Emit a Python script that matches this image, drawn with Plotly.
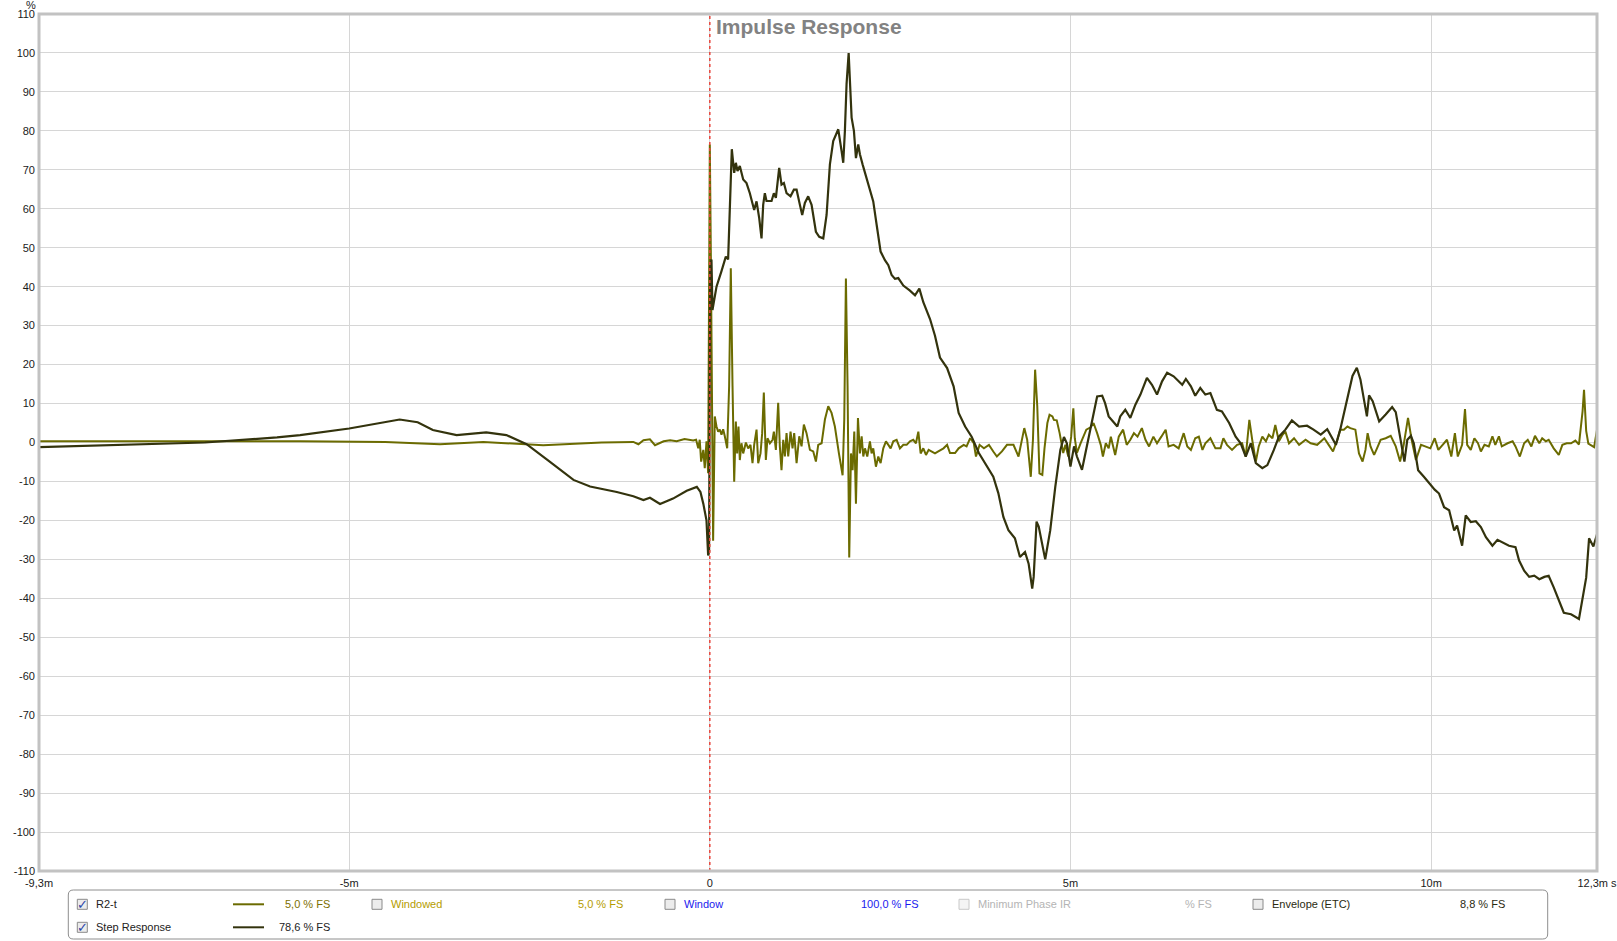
import plotly.graph_objects as go

# ---------------- data (time in ms, values in %) ----------------
ir_t = [-9.3, -6.5, -5.68, -4.5, -3.74, -3.14, -2.31, -1.5, -1.06, -0.99, -0.92, -0.83, -0.76, -0.64,
        -0.55, -0.46, -0.35, -0.23, -0.19, -0.16, -0.14, -0.12, -0.09, -0.07, -0.046, -0.023,
        0.0, 0.014, 0.032, 0.046, 0.069, 0.093, 0.116, 0.139, 0.162, 0.185, 0.208, 0.241,
        0.268, 0.291, 0.315, 0.338, 0.361, 0.379, 0.398, 0.416, 0.439, 0.463, 0.5, 0.532,
        0.564, 0.592, 0.615, 0.648, 0.671, 0.703, 0.726, 0.749, 0.777, 0.8, 0.833, 0.87,
        0.888, 0.916, 0.948, 0.971, 0.994, 1.018, 1.041, 1.064, 1.087, 1.119, 1.147, 1.17,
        1.203, 1.24, 1.272, 1.304, 1.341, 1.388, 1.434, 1.471, 1.503, 1.55, 1.596, 1.642,
        1.688, 1.734, 1.79, 1.841, 1.864, 1.887, 1.91, 1.933, 1.957, 1.98, 2.003, 2.026,
        2.054, 2.081, 2.105, 2.128, 2.151, 2.183, 2.22, 2.243, 2.266, 2.303, 2.336, 2.368,
        2.405, 2.442, 2.475, 2.507, 2.544, 2.59, 2.636, 2.683, 2.729, 2.775, 2.821, 2.858,
        2.891, 2.923, 2.96, 2.997, 3.034, 3.076, 3.122, 3.168, 3.24, 3.29, 3.33, 3.40,
        3.45, 3.52, 3.56, 3.61, 3.66, 3.69, 3.74, 3.80, 3.87, 3.93, 3.98, 4.05, 4.12, 4.21,
        4.28, 4.36, 4.40, 4.45, 4.48, 4.51, 4.54, 4.57, 4.61, 4.64, 4.68, 4.71, 4.75, 4.77,
        4.81, 4.85, 4.90, 4.93, 4.97, 5.01, 5.04, 5.06, 5.09, 5.14, 5.18, 5.22, 5.28, 5.32,
        5.37, 5.42, 5.45, 5.49, 5.53, 5.56, 5.62, 5.67, 5.73, 5.78, 5.83, 5.88, 5.93, 5.99,
        6.04, 6.09, 6.15, 6.20, 6.26, 6.32, 6.36, 6.43, 6.50, 6.57, 6.62, 6.67, 6.73, 6.78,
        6.83, 6.87, 6.94, 7.01, 7.08, 7.12, 7.17, 7.24, 7.31, 7.38, 7.43, 7.48, 7.52, 7.57,
        7.61, 7.66, 7.71, 7.75, 7.80, 7.84, 7.89, 7.94, 7.98, 8.03, 8.10, 8.17, 8.26, 8.33,
        8.42, 8.52, 8.58, 8.64, 8.70, 8.74, 8.79, 8.84, 8.88, 8.95, 9.00, 9.05, 9.09, 9.12,
        9.16, 9.21, 9.25, 9.30, 9.37, 9.44, 9.51, 9.57, 9.62, 9.68, 9.73, 9.79, 9.86, 9.92,
        9.99, 10.05, 10.10, 10.16, 10.22, 10.28, 10.33, 10.37, 10.43, 10.47, 10.50, 10.55,
        10.60, 10.65, 10.69, 10.74, 10.80, 10.85, 10.89, 10.94, 10.98, 11.06, 11.13, 11.17,
        11.23, 11.29, 11.34, 11.39, 11.44, 11.50, 11.54, 11.59, 11.63, 11.70, 11.77, 11.82,
        11.88, 11.94, 12.0, 12.05, 12.10, 12.12, 12.15, 12.18, 12.22, 12.26, 12.3]
ir_v = [0.3, 0.3, 0.3, 0.1, -0.45, 0.15, -0.7, 0.0, 0.15, -0.45, 0.6, 0.8, -0.7, 0.3,
        0.6, 0.3, 0.9, 0.5, 0.7, -1.5, 0.7, -4.9, -1.9, -6.6, 0.3, -7.9,
        76.5, 49.0, 1.6, -25.2, 6.7, 4.1, 2.8, 3.3, 2.0, 3.4, 1.6, -1.5,
        14.5, 44.7, 14.5, -10.1, 5.4, -2.8, 4.1, -4.5, -0.2, -2.8, 0.0, -1.5,
        -0.6, -5.3, -0.6, 3.3, -5.3, -2.8, 2.4, 12.8, -4.5, 1.1, -0.2, 0.7,
        2.8, -1.9, 10.2, -1.0, -7.1, 0.7, -3.6, 2.4, -3.6, 2.8, -1.5, 2.4,
        -5.3, 1.6, -1.0, 4.6, 2.4, -1.9, -2.3, -4.9, -0.6, -0.2, 5.9, 9.3,
        7.6, 4.1, -2.8, -8.4, 5.9, 42.1, 14.5, -29.5, -2.8, -7.1, 2.8, -15.7,
        6.3, -2.8, 1.6, -3.6, -1.5, -3.6, 0.3, -2.8, -1.5, -6.2, -3.6, -5.3,
        -1.5, 0.3, -0.6, -1.5, 0.3, 0.7, -1.5, -0.6, -0.6, 0.3, 0.7, -0.2,
        2.8, -2.8, -1.5, -3.2, -1.9, -2.3, -2.8, -2.3, -1.5, -0.6, -2.7, -2.7,
        -1.5, -0.6, -1.0, 1.1, -0.2, -3.6, -0.6, -1.5, -0.6, -2.3, -3.6, -2.3, -0.6, -0.6,
        -3.6, 3.7, 0.7, -8.8, 0.7, 18.7, 9.3, -7.9, -8.3, -1.5, 5.0, 7.1, 6.7, 5.8,
        5.7, 2.4, -2.7, -0.6, -3.6, 1.5, 8.8, 1.1, -2.7, -0.2, 1.5, 3.3, 3.9, 5.0,
        2.4, -0.6, -3.6, -0.2, -1.5, 1.5, -3.2, 1.5, 3.3, -0.6, 0.7, 2.4, 1.5, 3.7,
        0.7, -1.0, 1.5, -0.2, 1.5, 3.3, -1.0, -0.6, -1.5, 2.4, -1.0, -1.9, 1.1, 1.5,
        -1.9, -0.2, 1.1, -1.5, -1.5, 1.1, -0.6, -1.9, -0.6, -0.2, -3.6, 5.8, 0.7, -4.9,
        -1.0, 1.5, 0.3, 2.0, 1.1, 4.5, 0.3, 2.0, 2.8, -0.2, 1.1, -0.6, 0.7, -0.2,
        -0.6, 1.1, -0.6, -2.3, 0.7, 3.3, 3.3, 4.1, 3.7, 3.3, -2.8, -4.9, -1.9, 2.4,
        -1.0, -3.2, -1.5, 0.7, 1.1, 1.7, -1.0, -4.9, -0.6, 6.3, 0.7, -4.5, -0.6, -1.0,
        -1.5, 1.1, -1.9, -0.6, 0.7, -3.6, 2.4, -3.6, -0.6, 8.6, -0.6, -1.9,
        1.1, -0.2, -2.3, -0.6, -1.0, 1.6, -0.6, 1.6, -1.0, -0.2, 0.3, -1.0,
        -3.6, -0.2, 0.7, -1.0, 1.7, -0.2, 1.1, 0.3, 0.7, -1.5, -3.2, -0.6,
        -0.2, -0.2, 0.5, -0.5, 8.0, 13.5, 3.0, -0.3, -0.8, -1.2, 3.2]

step_t = [-9.3, -8.4, -7.0, -6.0, -5.68, -5.0, -4.6, -4.3, -4.05, -3.84, -3.51, -3.10, -2.82,
          -2.54, -2.22, -1.89, -1.66, -1.29, -1.06, -0.92, -0.83, -0.69, -0.51, -0.32, -0.18,
          -0.13, -0.09, -0.046, -0.023, -0.01, 0.005, 0.023, 0.037, 0.093, 0.162, 0.222, 0.254,
          0.278, 0.305, 0.338, 0.361, 0.384, 0.416, 0.463, 0.509, 0.555, 0.615, 0.648, 0.685,
          0.717, 0.740, 0.763, 0.786, 0.856, 0.888, 0.916, 0.962, 0.994, 1.027, 1.064, 1.119,
          1.166, 1.203, 1.249, 1.281, 1.318, 1.364, 1.411, 1.471, 1.517, 1.573, 1.619, 1.665,
          1.711, 1.781, 1.827, 1.850, 1.873, 1.896, 1.925, 1.966, 1.998, 2.026, 2.058, 2.081,
          2.118, 2.174, 2.220, 2.266, 2.313, 2.368, 2.428, 2.475, 2.521, 2.567, 2.613, 2.683,
          2.775, 2.845, 2.905, 2.960, 3.053, 3.122, 3.191, 3.29, 3.38, 3.45, 3.54, 3.63, 3.73,
          3.84, 3.93, 4.00, 4.07, 4.14, 4.23, 4.30, 4.37, 4.42, 4.47, 4.49, 4.53, 4.56, 4.61,
          4.65, 4.72, 4.79, 4.86, 4.91, 4.95, 5.00, 5.05, 5.09, 5.16, 5.23, 5.30, 5.37, 5.44,
          5.48, 5.53, 5.60, 5.65, 5.69, 5.76, 5.83, 5.90, 5.97, 6.06, 6.13, 6.20, 6.27, 6.34,
          6.43, 6.50, 6.55, 6.60, 6.67, 6.73, 6.80, 6.87, 6.94, 7.03, 7.10, 7.20, 7.29, 7.36,
          7.43, 7.50, 7.57, 7.66, 7.73, 7.82, 7.89, 7.98, 8.07, 8.17, 8.28, 8.37, 8.47, 8.56,
          8.68, 8.74, 8.84, 8.91, 8.97, 9.02, 9.11, 9.14, 9.19, 9.28, 9.37, 9.46, 9.51, 9.58,
          9.63, 9.67, 9.72, 9.76, 9.82, 9.90, 9.99, 10.05, 10.11, 10.18, 10.25, 10.32, 10.36,
          10.43, 10.48, 10.55, 10.62, 10.69, 10.76, 10.85, 10.92, 10.99, 11.08, 11.17, 11.22,
          11.29, 11.36, 11.43, 11.50, 11.57, 11.63, 11.70, 11.77, 11.84, 11.94, 12.05, 12.15,
          12.19, 12.25, 12.3]
step_v = [-1.2, -0.8, 0.0, 1.3, 1.9, 3.6, 4.9, 5.9, 5.2, 3.2, 1.9, 2.6, 1.9,
          -0.44, -4.9, -9.6, -11.3, -12.7, -13.8, -14.8, -14.2, -15.8, -14.4, -12.4, -11.4,
          -12.7, -15.7, -20.0, -29.0, -28.0, 45.0, 47.0, 34.0, 40.0, 44.0, 47.7, 47.0,
          62.0, 75.3, 69.2, 71.8, 69.7, 71.0, 67.5, 66.6, 64.0, 59.7, 61.9, 57.6,
          52.4, 61.0, 64.0, 62.0, 62.0, 64.0, 62.8, 70.5, 66.2, 66.6, 64.0, 63.2,
          64.9, 64.9, 61.0, 58.4, 61.5, 63.2, 61.0, 54.1, 52.8, 52.4, 58.4, 71.4,
          77.4, 80.4, 74.8, 71.8, 80.0, 92.0, 100.0, 83.4, 80.0, 73.0, 76.5, 74.0,
          71.4, 68.0, 65.3, 61.9, 55.9, 49.0, 46.8, 45.5, 43.0, 42.0, 42.2, 40.3,
          39.0, 37.8, 39.5, 36.0, 31.7, 27.4, 21.8, 19.1, 14.4, 7.6, 4.1, 1.5, -2.7,
          -6.2, -8.8, -13.0, -19.1, -22.5, -24.6, -29.4, -28.1, -31.1, -37.5, -34.5, -20.3, -21.6, -26.8,
          -30.0, -22.5, -11.3, -1.9, 1.4, -0.2, -6.2, -1.0, -3.6, -7.0, -1.0, 5.8, 11.8, 12.0,
          10.1, 6.7, 5.0, 4.1, 6.7, 8.4, 6.3, 9.7, 12.3, 16.6, 14.8, 12.3, 15.7, 17.9,
          17.0, 15.7, 14.8, 16.3, 14.4, 12.0, 14.0, 12.3, 12.7, 8.4, 8.0, 5.0, 1.5, -0.2,
          -3.6, -0.2, -5.3, -6.6, -5.8, -1.9, 1.5, 3.3, 5.7, 4.1, 4.3, 3.3, 2.0, 3.4,
          -0.6, 3.3, 11.9, 17.1, 19.2, 16.2, 6.7, 12.1, 10.6, 5.4, 7.2, 9.1, 7.8, -0.2,
          -4.9, 0.7, 1.7, -0.2, -7.1, -8.8, -10.9, -12.1, -13.1, -16.6, -17.4, -22.6, -21.3,
          -26.5, -18.7, -20.4, -20.2, -21.7, -24.3, -26.5, -25.0, -25.6, -26.5, -26.9, -30.3,
          -32.9, -34.5, -34.2, -35.1, -34.5, -34.2, -37.2, -40.7, -43.7, -44.1, -45.3, -34.7,
          -24.6, -26.7, -23.6]

x_tickvals = [-9.3, -5, 0, 5, 10, 12.3]
x_ticktext = ["-9,3m", "-5m", "0", "5m", "10m", "12,3m s"]
y_tickvals = list(range(-110, 111, 10))
y_ticktext = [str(v) for v in y_tickvals]

# legend rows: (label, value text, line colour, text colour, value colour)
legend_rows = [
    ("R2-t", "5,0 % FS", "#6b6b00", "#222222", "#7d6f00"),
    ("Step Response", "78,6 % FS", "#33330d", "#222222", "#222222"),
]
legend_extra = [  # (label, value, checkbox x, value right edge, text colour, value colour, disabled)
    ("Windowed", "5,0 % FS", 372, 625, "#b49c00", "#b49c00", False),
    ("Window", "100,0 % FS", 665, 920, "#1a1aee", "#1a1aee", False),
    ("Minimum Phase IR", "% FS", 959, 1214, "#b4b4b4", "#b4b4b4", True),
    ("Envelope (ETC)", "8,8 % FS", 1253, 1507, "#2a2a10", "#2a2a10", False),
]

IR_COLOR = "#6b6b00"
STEP_COLOR = "#33330d"
FONT = "Liberation Sans, Arial, sans-serif"

W, H = 1617, 941
ML, MR, MT, MB = 39, 20, 14, 70
PW, PH = W - ML - MR, H - MT - MB


def xp(px):
    return (px - ML) / PW


def yp(py):
    return (H - MB - py) / PH


fig = go.Figure()
fig.add_trace(go.Scatter(x=ir_t, y=ir_v, mode="lines", line=dict(color=IR_COLOR, width=2),
                         name="R2-t", hoverinfo="skip"))
fig.add_trace(go.Scatter(x=step_t, y=step_v, mode="lines", line=dict(color=STEP_COLOR, width=2.2),
                         name="Step Response", hoverinfo="skip"))

shapes = []
annotations = []

# red dotted marker at t = 0
shapes.append(dict(type="line", xref="x", yref="paper", x0=0, x1=0, y0=0, y1=1,
                   line=dict(color="#e8453c", width=1.5, dash="dot"), layer="above"))
# frame
shapes.append(dict(type="rect", xref="paper", yref="paper", x0=0, x1=1, y0=0, y1=1,
                   line=dict(color="#c2c2c2", width=3), layer="above"))

# title
annotations.append(dict(text="<b>Impulse Response</b>", xref="paper", yref="paper",
                        x=xp(714), y=yp(26), xanchor="left", yanchor="middle", showarrow=False,
                        font=dict(family=FONT, size=21, color="#828282")))
# unit label
annotations.append(dict(text="%", xref="paper", yref="paper", x=xp(31), y=yp(5),
                        xanchor="center", yanchor="middle", showarrow=False,
                        font=dict(family=FONT, size=11, color="#222222")))

# legend box (rounded)
bx0, bx1, by0, by1, r = 68.3, 1547.7, 890, 939, 5
path = (f"M {xp(bx0 + r)} {yp(by0)} L {xp(bx1 - r)} {yp(by0)} "
        f"Q {xp(bx1)} {yp(by0)} {xp(bx1)} {yp(by0 + r)} L {xp(bx1)} {yp(by1 - r)} "
        f"Q {xp(bx1)} {yp(by1)} {xp(bx1 - r)} {yp(by1)} L {xp(bx0 + r)} {yp(by1)} "
        f"Q {xp(bx0)} {yp(by1)} {xp(bx0)} {yp(by1 - r)} L {xp(bx0)} {yp(by0 + r)} "
        f"Q {xp(bx0)} {yp(by0)} {xp(bx0 + r)} {yp(by0)} Z")
shapes.append(dict(type="path", xref="paper", yref="paper", path=path,
                   line=dict(color="#8e8e8e", width=1), fillcolor="white"))


def checkbox(cx, cy, checked, disabled=False):
    border = "#c8c8c8" if disabled else "#8a8a8a"
    fill = "#f4f4f4" if disabled else "#ececec"
    shapes.append(dict(type="rect", xref="paper", yref="paper",
                       x0=xp(cx), x1=xp(cx + 10), y0=yp(cy - 5), y1=yp(cy + 5),
                       line=dict(color=border, width=1), fillcolor=fill))
    if checked:
        annotations.append(dict(text="<b>✓</b>", xref="paper", yref="paper", x=xp(cx + 5.5), y=yp(cy),
                                xanchor="center", yanchor="middle", showarrow=False,
                                font=dict(family="DejaVu Sans", size=13, color="#2a45a8")))


row_y = [904.3, 927.3]
for (label, val, lcol, tcol, vcol), ry in zip(legend_rows, row_y):
    checkbox(77.3, ry, True)
    annotations.append(dict(text=label, xref="paper", yref="paper", x=xp(94), y=yp(ry),
                            xanchor="left", yanchor="middle", showarrow=False,
                            font=dict(family=FONT, size=11, color=tcol)))
    shapes.append(dict(type="line", xref="paper", yref="paper", x0=xp(233), x1=xp(264),
                       y0=yp(ry), y1=yp(ry), line=dict(color=lcol, width=2)))
    annotations.append(dict(text=val, xref="paper", yref="paper", x=xp(332), y=yp(ry),
                            xanchor="right", yanchor="middle", showarrow=False,
                            font=dict(family=FONT, size=11, color=vcol)))

for label, val, cbx, vright, tcol, vcol, dis in legend_extra:
    checkbox(cbx, row_y[0], False, dis)
    annotations.append(dict(text=label, xref="paper", yref="paper", x=xp(cbx + 17), y=yp(row_y[0]),
                            xanchor="left", yanchor="middle", showarrow=False,
                            font=dict(family=FONT, size=11, color=tcol)))
    annotations.append(dict(text=val, xref="paper", yref="paper", x=xp(vright), y=yp(row_y[0]),
                            xanchor="right", yanchor="middle", showarrow=False,
                            font=dict(family=FONT, size=11, color=vcol)))

fig.update_layout(
    width=W, height=H, autosize=False,
    margin=dict(l=ML, r=MR, t=MT, b=MB, autoexpand=False),
    paper_bgcolor="white", plot_bgcolor="white",
    showlegend=False,
    font=dict(family=FONT, size=11, color="#1a1a1a"),
    shapes=shapes, annotations=annotations,
    xaxis=dict(range=[-9.3, 12.3], tickvals=x_tickvals, ticktext=x_ticktext,
               showgrid=True, gridcolor="#d6d6d6", gridwidth=1, zeroline=False, automargin=False,
               showline=False, ticks="", ticklabelstandoff=4, ticklabeloverflow="allow",
               tickfont=dict(family=FONT, size=11, color="#1a1a1a")),
    yaxis=dict(range=[-110, 110], tickvals=y_tickvals, ticktext=y_ticktext,
               showgrid=True, gridcolor="#d6d6d6", gridwidth=1, zeroline=False, automargin=False,
               showline=False, ticks="", ticklabelstandoff=3, ticklabeloverflow="allow",
               tickfont=dict(family=FONT, size=11, color="#1a1a1a")),
)

fig.write_html("out.html", config={"displayModeBar": False, "responsive": False},
               post_script="document.body.style.margin='0px';document.body.style.overflow='hidden';")
